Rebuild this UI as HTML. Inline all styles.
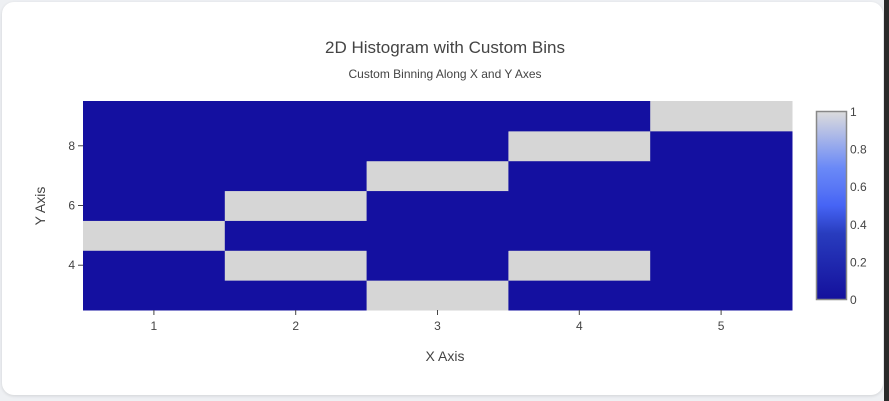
<!DOCTYPE html>
<html><head><meta charset="utf-8"><style>
html,body{margin:0;padding:0;width:889px;height:401px;overflow:hidden;background:#eef0f3;font-family:"Liberation Sans",sans-serif}
#card{position:absolute;left:2px;top:2px;width:881px;height:393px;background:#fff;border-radius:12px;box-shadow:0 1px 3px rgba(0,0,0,.12)}
#strip{position:absolute;left:884px;top:0;width:5px;height:401px;background:#2a2a2a}
svg{position:absolute;left:0;top:0}
</style></head><body>
<div id="card"></div>
<div id="strip"></div>
<svg id="chart" width="889" height="401">
<defs><linearGradient id="cg" x1="0" y1="1" x2="0" y2="0">
<stop offset="0" stop-color="rgb(20,16,156)"/><stop offset="0.35" stop-color="rgb(40,60,190)"/><stop offset="0.5" stop-color="rgb(70,100,245)"/><stop offset="0.6" stop-color="rgb(90,120,245)"/><stop offset="0.7" stop-color="rgb(106,137,247)"/><stop offset="1" stop-color="rgb(220,220,220)"/></linearGradient></defs>
<text x="445" y="53" text-anchor="middle" font-size="17" fill="#444">2D Histogram with Custom Bins</text>
<text x="445" y="78" text-anchor="middle" font-size="12" fill="#444">Custom Binning Along X and Y Axes</text>
<g id="cells"></g><g id="axes"></g>
<text x="445" y="361" text-anchor="middle" font-size="14" fill="#444">X Axis</text>
<text transform="translate(45,206) rotate(-90)" text-anchor="middle" font-size="14" fill="#444">Y Axis</text>
<rect x="816.5" y="111.5" width="30" height="188" fill="url(#cg)" stroke="#888" stroke-width="1.5"/>
<g id="cbticks"></g>
</svg>
<script>
const xCats=[1,2,3,4,5];
const yCats=[3,4,5,6,7,8,9];
// counts[yIndex][xIndex]
const counts=[
[0,0,1,0,0],
[0,1,0,1,0],
[1,0,0,0,0],
[0,1,0,0,0],
[0,0,1,0,0],
[0,0,0,1,0],
[0,0,0,0,1]];
const xTicks=[1,2,3,4,5];
const yTicks=[4,6,8];
const cbTicks=[0,0.2,0.4,0.6,0.8,1];
const X0=83,X1=792,Y0=310,Y1=101,xMin=0.5,xMax=5.5,yMin=2.5,yMax=9.5;
const sx=v=>X0+(v-xMin)/(xMax-xMin)*(X1-X0);
const sy=v=>Y0-(v-yMin)/(yMax-yMin)*(Y0-Y1);
const NS="http://www.w3.org/2000/svg";
function col(v){return v>=1?"rgb(214,214,214)":"rgb(20,16,160)";}
const cells=document.getElementById('cells');
yCats.forEach((y,i)=>xCats.forEach((x,j)=>{
 const r=document.createElementNS(NS,'rect');
 const a=sx(x-0.5),b=sx(x+0.5),t=sy(y+0.5),bt=sy(y-0.5);
 r.setAttribute('x',a);r.setAttribute('y',t);r.setAttribute('width',b-a+0.5);r.setAttribute('height',bt-t+0.5);
 r.setAttribute('fill',col(counts[i][j]));
 
 
 cells.appendChild(r);
}));
const ax=document.getElementById('axes');
xTicks.forEach(v=>{
 const l=document.createElementNS(NS,'line');
 l.setAttribute('x1',sx(v));l.setAttribute('x2',sx(v));l.setAttribute('y1',Y0);l.setAttribute('y2',Y0+5);l.setAttribute('stroke','#444');
 
 
 ax.appendChild(l);
 const t=document.createElementNS(NS,'text');
 t.setAttribute('x',sx(v));t.setAttribute('y',Y0+20);t.setAttribute('text-anchor','middle');t.setAttribute('font-size','12');t.setAttribute('fill','#444');
 t.textContent=v;
 
 
 ax.appendChild(t);
});
yTicks.forEach(v=>{
 const l=document.createElementNS(NS,'line');
 l.setAttribute('x1',X0-5);l.setAttribute('x2',X0);l.setAttribute('y1',sy(v));l.setAttribute('y2',sy(v));l.setAttribute('stroke','#444');
 
 
 ax.appendChild(l);
 const t=document.createElementNS(NS,'text');
 t.setAttribute('x',X0-8);t.setAttribute('y',sy(v)+4);t.setAttribute('text-anchor','end');t.setAttribute('font-size','12');t.setAttribute('fill','#444');
 t.textContent=v;
 
 
 ax.appendChild(t);
});
const cb=document.getElementById('cbticks');
cbTicks.forEach(v=>{
 const y=300-v*188;
 const t=document.createElementNS(NS,'text');
 t.setAttribute('x',850);t.setAttribute('y',y+4);t.setAttribute('font-size','12');t.setAttribute('fill','#444');
 t.textContent=v;
 
 
 cb.appendChild(t);
});
</script>
</body></html>
